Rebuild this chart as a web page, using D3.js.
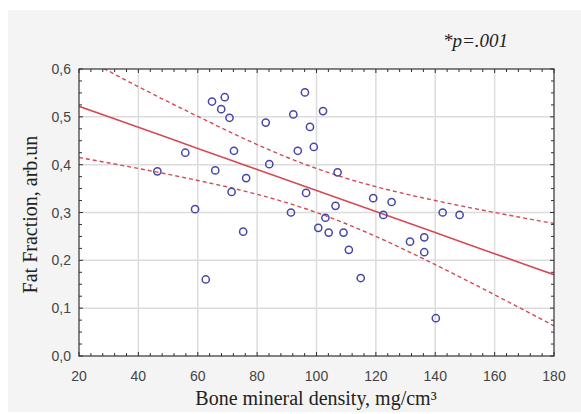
<!DOCTYPE html>
<html><head><meta charset="utf-8">
<script src="https://cdn.jsdelivr.net/npm/d3@7"></script>
<style>body{margin:0;background:#fff;}svg{display:block;}</style>
</head><body>
<script>
const bmd = [46.4,55.8,59.1,62.7,64.8,69.1,67.9,70.7,72.2,65.9,71.4,76.3,75.3,82.9,84.1,96.1,92.2,102.2,97.8,93.7,99.1,107.1,96.5,119.1,125.3,106.4,91.4,103.0,100.6,104.1,109.1,110.9,114.9,122.5,131.5,136.3,136.3,142.5,148.2,140.2];
const fat = [0.386,0.425,0.307,0.160,0.532,0.541,0.516,0.498,0.429,0.388,0.343,0.372,0.260,0.488,0.401,0.551,0.505,0.512,0.479,0.429,0.437,0.384,0.341,0.330,0.322,0.314,0.300,0.289,0.268,0.258,0.258,0.222,0.163,0.295,0.239,0.248,0.217,0.300,0.295,0.079];
const fitX = [20,40,60,80,100,120,140,160,180];
const fitY = [0.522,0.478,0.434,0.390,0.346,0.302,0.258,0.214,0.170];
const upperY = [0.629,0.563,0.501,0.442,0.392,0.354,0.325,0.300,0.277];
const lowerY = [0.415,0.392,0.367,0.338,0.300,0.250,0.191,0.128,0.063];
const xTicks = [20,40,60,80,100,120,140,160,180];
const yTicks = [0,0.1,0.2,0.3,0.4,0.5,0.6];
const xLabel = "Bone mineral density, mg/cm³";
const yLabel = "Fat Fraction, arb.un";
const note = "*p=.001";

const W=581,H=414;
const sans="'Liberation Sans', Arial, sans-serif", serif="'Liberation Serif', 'Times New Roman', serif";
const svg=d3.select("body").append("svg").attr("width",W).attr("height",H);
svg.append("rect").attr("x",8).attr("y",10).attr("width",W-8).attr("height",402).attr("fill","#f4f4f4");
const L=79,R=554,T=69,B=356;
const x=d3.scaleLinear().domain([20,180]).range([L,R]);
const y=d3.scaleLinear().domain([0,0.6]).range([B,T]);
svg.append("rect").attr("x",L).attr("y",T).attr("width",R-L).attr("height",B-T).attr("fill","#fff");
svg.append("defs").append("clipPath").attr("id","clip").append("rect").attr("x",L).attr("y",T).attr("width",R-L).attr("height",B-T);

// gridlines
const g=svg.append("g");
g.selectAll(".gx").data(xTicks.slice(1,-1)).join("line").attr("x1",d=>x(d)).attr("x2",d=>x(d)).attr("y1",T).attr("y2",B).attr("stroke","#dcdcdc").attr("stroke-width",1.5);
g.selectAll(".gy").data(yTicks.slice(1,-1)).join("line").attr("y1",d=>y(d)).attr("y2",d=>y(d)).attr("x1",L).attr("x2",R).attr("stroke","#dcdcdc").attr("stroke-width",1.5);

// inward ticks on four sides
const xMinor=d3.range(20,180.1,4), yMinor=d3.range(0,0.6001,0.025);
const a=svg.append("g").attr("stroke","#333").attr("stroke-width",1);
a.selectAll(".b").data(xMinor).join("line").attr("x1",d=>x(d)).attr("x2",d=>x(d)).attr("y1",B).attr("y2",(d,i)=>B-(i%5===0?4:3));
a.selectAll(".t").data(xMinor).join("line").attr("x1",d=>x(d)).attr("x2",d=>x(d)).attr("y1",T).attr("y2",(d,i)=>T+(i%5===0?4:3));
a.selectAll(".l").data(yMinor).join("line").attr("y1",d=>y(d)).attr("y2",d=>y(d)).attr("x1",L).attr("x2",(d,i)=>L+(i%4===0?4:3));
a.selectAll(".r").data(yMinor).join("line").attr("y1",d=>y(d)).attr("y2",d=>y(d)).attr("x1",R).attr("x2",(d,i)=>R-(i%4===0?4:3));

const plot=svg.append("g").attr("clip-path","url(#clip)");
const line=d3.line().curve(d3.curveNatural);
const red="#d44a55";
plot.append("path").attr("d",line(fitX.map((d,i)=>[x(d),y(fitY[i])]))).attr("fill","none").attr("stroke",red).attr("stroke-width",1.6);
plot.append("path").attr("d",line(fitX.map((d,i)=>[x(d),y(upperY[i])]))).attr("fill","none").attr("stroke",red).attr("stroke-width",1.4).attr("stroke-dasharray","4,3");
plot.append("path").attr("d",line(fitX.map((d,i)=>[x(d),y(lowerY[i])]))).attr("fill","none").attr("stroke",red).attr("stroke-width",1.4).attr("stroke-dasharray","4,3");

plot.selectAll("circle").data(bmd).join("circle").attr("cx",d=>x(d)).attr("cy",(d,i)=>y(fat[i])).attr("r",3.6).attr("fill","none").attr("stroke","#4646a6").attr("stroke-width",1.5);

svg.append("rect").attr("x",L).attr("y",T).attr("width",R-L).attr("height",B-T).attr("fill","none").attr("stroke","#333").attr("stroke-width",1.2);

// labels
const fmt=d=>d3.format(".1f")(d).replace(".",",");
svg.selectAll(".xl").data(xTicks).join("text").attr("x",d=>x(d)).attr("y",381).attr("text-anchor","middle").attr("font-family",sans).attr("font-size",14).attr("fill","#444").text(d=>d);
svg.selectAll(".yl").data(yTicks).join("text").attr("x",71).attr("y",d=>y(d)+5).attr("text-anchor","end").attr("font-family",sans).attr("font-size",14).attr("fill","#444").text(fmt);
svg.append("text").attr("x",316).attr("y",405).attr("text-anchor","middle").attr("font-family",serif).attr("font-size",20).attr("fill","#222").text(xLabel);
svg.append("text").attr("transform",`translate(37,${(T+B)/2+2}) rotate(-90)`).attr("text-anchor","middle").attr("font-family",serif).attr("font-size",20).attr("fill","#222").text(yLabel);
svg.append("text").attr("x",443).attr("y",47).attr("font-family",serif).attr("font-style","italic").attr("font-size",19).attr("fill","#222").text(note);
</script>
</body></html>
